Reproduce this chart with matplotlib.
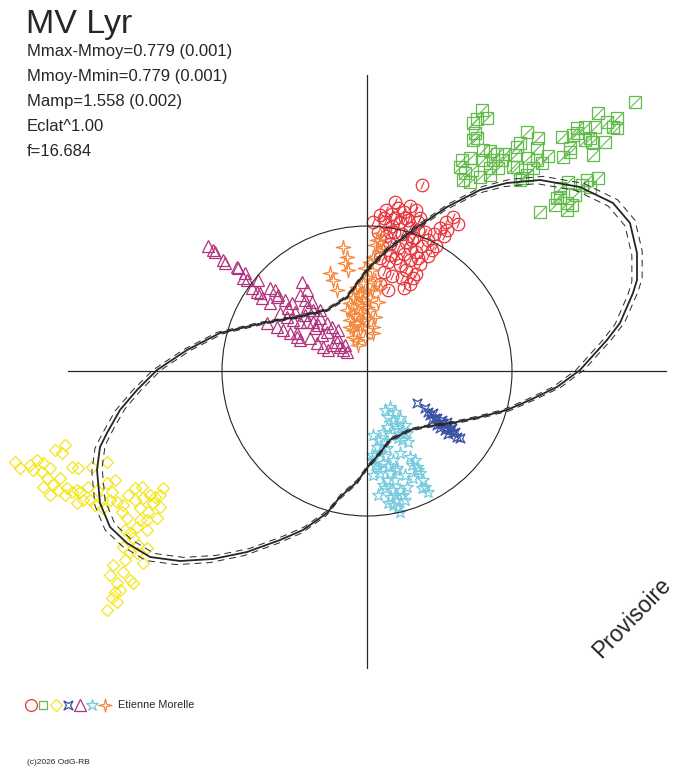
import matplotlib
matplotlib.use("Agg")
import matplotlib.pyplot as plt
from matplotlib.patches import Circle
from matplotlib.lines import Line2D
import matplotlib.transforms as mtransforms

plt.rcParams['font.family'] = ['Liberation Sans', 'DejaVu Sans']

# ---------------- data (arbitrary units, origin at crosshair) ----------------
title = "MV Lyr"
info_lines = ["Mmax-Mmoy=0.779 (0.001)", "Mmoy-Mmin=0.779 (0.001)",
              "Mamp=1.558 (0.002)", "Eclat^1.00", "f=16.684"]
author = "Etienne Morelle"
copyright_txt = "(c)2026 OdG-RB"
watermark = "Provisoire"

loop_x = [0, 20, 46, 80, 113, 140, 173, 213, 246, 263, 270, 270, 266, 253, 240, 213,
          190, 163, 140, 113, 90, 56, 43, 23, 13, 0, -10, -27, -40, -64, -87, -120,
          -154, -187, -217, -240, -257, -267, -270, -267, -260, -247, -230, -210,
          -180, -147, -104, -70, -40, -20, 0]
loop_y = [101, 121, 141, 164, 181, 188, 191, 184, 168, 148, 118, 91, 78, 48, 31, 1,
          -16, -29, -39, -46, -51, -56, -59, -69, -82, -97, -111, -126, -142, -159,
          -169, -181, -188, -190, -186, -172, -156, -132, -99, -76, -62, -39, -19, 1,
          21, 38, 48, 54, 61, 74, 101]
ref_radius = 145

red_x = [55, 28, 6, 13, 19, 25, 31, 37, 43, 49, 18, 25, 33, 41, 11, 19, 27, 35, 43, 51,
         15, 23, 31, 39, 47, 13, 21, 29, 37, 17, 25, 13, 21,
         86, 79, 73, 91, 67, 61, 77, 55, 69, 49, 61, 43, 53, 39, 49, 35, 43, 37, 51, 45,
         17, 28, 38, 23, 43, 53, 58, 80, 65, 51, 33, 23, 46]
red_y = [186, 169, 149, 156, 161, 157, 163, 159, 165, 161, 149, 145, 149, 151, 139, 135,
         139, 137, 143, 149, 125, 127, 123, 129, 133, 113, 109, 113, 117, 99, 95, 87, 81,
         154, 149, 143, 147, 137, 131, 135, 125, 125, 119, 115, 111, 107, 101, 97, 93, 87,
         83, 141, 131,
         153, 153, 153, 139, 123, 153, 139, 141, 121, 113, 106, 116, 93]

green_x = [115, 110, 120, 106, 108, 110, 106, 116, 123, 130, 138, 95, 103, 93, 98, 105,
           96, 103, 113, 123, 116, 126, 135, 131, 123, 160, 171, 170, 150, 153, 148, 150,
           146, 161, 170, 166, 181, 175, 160, 155, 153, 195, 203, 203, 196, 210, 218, 228,
           210, 206, 223, 225, 218, 238, 226, 231, 240, 250, 246, 250, 268, 201, 193, 193,
           190, 188, 200, 205, 200, 208, 173, 220, 223, 231, 215]
green_y = [261, 252, 253, 248, 238, 233, 231, 221, 220, 217, 217, 211, 213, 204, 198, 201,
           191, 189, 194, 196, 211, 211, 211, 203, 203, 239, 233, 223, 224, 228, 216, 204,
           204, 213, 211, 203, 215, 208, 196, 193, 191, 234, 223, 219, 214, 243, 244, 244,
           238, 236, 233, 229, 231, 229, 216, 258, 249, 253, 244, 243, 269, 189, 183, 174,
           173, 166, 168, 166, 161, 176, 159, 191, 184, 193, 186]

yellow_x = [-352, -347, -330, -324, -334, -325, -317, -312, -302, -305, -295, -289, -275,
            -260, -324, -314, -317, -309, -300, -295, -287, -290, -284, -277, -270, -260,
            -252, -265, -257, -250, -244, -264, -232, -225, -217, -204, -224, -214, -207,
            -227, -219, -240, -210, -220, -230, -237, -234, -220, -244, -237, -230, -220,
            -224, -254, -257, -244, -237, -234, -250, -252, -250, -260, -290,
            -337, -320, -307, -302, -279, -272, -255, -239, -232, -212, -245, -227, -242,
            -229, -242, -247, -255, -207]
yellow_y = [-91, -97, -89, -92, -99, -101, -97, -79, -74, -82, -96, -97, -96, -91, -116,
            -114, -124, -119, -117, -121, -121, -132, -129, -129, -119, -112, -109, -129,
            -129, -131, -134, -137, -117, -116, -124, -117, -127, -132, -136, -137, -141,
            -147, -147, -149, -156, -162, -167, -159, -176, -181, -182, -177, -192, -194,
            -204, -201, -209, -212, -212, -221, -231, -239, -119,
            -94, -107, -107, -124, -116, -134, -121, -124, -129, -126, -141, -149, -159,
            -174, -189, -219, -227, -124]

blue_x = [50, 58, 61, 66, 70, 65, 73, 76, 80, 83, 88, 90, 73, 80, 70, 86,
          63, 78, 85, 68, 75, 81, 93]
blue_y = [-32, -37, -41, -42, -47, -49, -52, -52, -56, -59, -61, -66, -57, -51, -54, -62,
          -44, -59, -57, -47, -49, -63, -67]

purple_x = [-159, -154, -152, -144, -142, -130, -129, -122, -124, -120, -109, -115, -110,
            -107, -97, -92, -89, -90, -97, -75, -65, -60, -67, -62, -55, -60, -54, -47,
            -87, -80, -74, -67, -60, -54, -47, -40, -35, -100, -90, -84, -77, -70, -67,
            -57, -50, -44, -39, -30, -24, -20, -30, -40, -70,
            -52, -45, -34, -27, -62, -49, -79, -72, -105, -82, -29, -22]
purple_y = [125, 121, 119, 111, 108, 104, 103, 98, 93, 91, 91, 83, 79, 78, 83, 81, 76, 74,
            68, 68, 89, 81, 76, 71, 69, 64, 61, 61, 58, 54, 51, 49, 49, 49, 53, 48, 44, 48,
            44, 41, 38, 38, 31, 33, 28, 24, 21, 29, 21, 19, 34, 39, 34,
            43, 36, 26, 24, 56, 46, 63, 59, 73, 71, 41, 26]

cyan_x = [23, 21, 26, 20, 30, 36, 40, 23, 31, 6, 10, 13, 5, 8, 16, 26, 33, 30, 23, 13, 6,
          20, 28, 43, 48, 50, 53, 56, 58, 55, 45, 26, 33, 23, 30, 36, 26, 31, 11, 40, 20,
          18, 28, 33, 38, 28, 16, 35, 41, 18, 11, 5, 18, 11, 21, 29, 38, 46, 18, 28, 38,
          21, 33, 16, 51, 61]
cyan_y = [-36, -46, -49, -56, -57, -59, -62, -64, -67, -64, -76, -81, -89, -94, -92, -89,
          -82, -97, -102, -102, -104, -109, -109, -86, -89, -96, -102, -109, -116, -117,
          -94, -119, -119, -126, -129, -124, -134, -137, -124, -116, -77,
          -39, -41, -47, -54, -54, -61, -69, -71, -72, -69, -84, -85, -97, -95, -99, -104,
          -107, -117, -124, -129, -132, -141, -114, -99, -121]

orange_x = [-24, -20, -22, -19, -37, -34, -30, 13, 10, 13, 16, 6, 5, 0, -4, -10, -7, -14,
            -17, -10, -4, 0, -20, -14, -7, -17, -10, -4, -14, -7, -14, -10, 13, 11, 8, 6,
            6, 0, 3, 8, 3, -2, -12, -5, 1, -17, -2, -9, 3, 8, 5, -12, -5]
orange_y = [124, 114, 108, 101, 98, 91, 81, 138, 131, 121, 124, 114, 101, 94, 88, 84, 78,
            74, 68, 68, 71, 64, 61, 58, 58, 51, 48, 51, 41, 41, 34, 31, 84, 69, 54, 44, 38,
            81, 74, 126, 109, 103, 56, 46, 53, 44, 33, 26, 61, 91, 81, 79, 66]

# ---------------- styles ----------------
C_RED = '#e8343c'
C_GREEN = '#63bb4c'
C_YELLOW = '#f4e61a'
C_BLUE = '#3b52a3'
C_PURPLE = '#b1337e'
C_CYAN = '#74cbdd'
C_ORANGE = '#f5873a'
C_INK = '#262626'

sparkle = [(0, 1), (0.18, 0.18), (1, 0), (0.18, -0.18), (0, -1), (-0.18, -0.18),
           (-1, 0), (-0.18, 0.18), (0, 1)]
astroid = [(1, 1), (0.45, 0.0), (1, -1), (0.0, -0.45), (-1, -1),
           (-0.45, 0.0), (-1, 1), (0.0, 0.45), (1, 1)]
slash_sq = [(-1, -1), (1, 1)]
slash_ci = [(-0.45, -1), (0.45, 1)]

W, H = 688, 768
fig = plt.figure(figsize=(W / 100, H / 100), dpi=100)
fig.patch.set_facecolor('white')
ax = fig.add_axes([0, 0, 1, 1])
ax.set_xlim(-367, W - 367)
ax.set_ylim(371 - H, 371)
ax.axis('off')

mew = 0.9
def pts(x, y, marker, color, ms, z, lw=mew):
    ax.plot(x, y, linestyle='none', marker=marker, markersize=ms,
            markerfacecolor='none', markeredgecolor=color, markeredgewidth=lw, zorder=z)

pts(green_x, green_y, 's', C_GREEN, 8.0, 2)
pts(green_x, green_y, slash_sq, C_GREEN, 7.5, 2, 0.8)
pts(red_x, red_y, 'o', C_RED, 9.0, 3)
pts(red_x, red_y, slash_ci, C_RED, 5.5, 3, 0.8)
pts(yellow_x, yellow_y, 'D', C_YELLOW, 6.5, 3)
pts(blue_x, blue_y, astroid, C_BLUE, 6.5, 3)
pts(purple_x, purple_y, '^', C_PURPLE, 8.5, 3)
pts(cyan_x, cyan_y, '*', C_CYAN, 9.5, 3)
pts(orange_x, orange_y, sparkle, C_ORANGE, 10.5, 4)

# crosshair and reference circle
ax.plot([-299, 299], [0, 0], color=C_INK, lw=0.9, zorder=5)
ax.plot([0, 0], [-297, 296], color=C_INK, lw=0.9, zorder=5)
ax.add_patch(Circle((0, 0), ref_radius, fill=False, edgecolor=C_INK, lw=0.8, zorder=5))

# model loop with envelopes
ax.plot(loop_x, loop_y, color=C_INK, lw=1.3, zorder=6, solid_joinstyle='round')
for s in (1.019, 0.981):
    tr = mtransforms.Affine2D().scale(s) + ax.transData
    ax.plot(loop_x, loop_y, color=C_INK, lw=0.7, linestyle=(0, (7, 5)),
            transform=tr, zorder=6)

# ---------------- texts ----------------
def fx(px):
    return px / W
def fy(py):
    return 1 - py / H

fig.text(fx(26), fy(33), title, fontsize=24.5, color=C_INK, va='baseline', ha='left')
for i, line in enumerate(info_lines):
    fig.text(fx(27), fy(56 + 25 * i), line, fontsize=12, color=C_INK,
             va='baseline', ha='left')

fig.text(fx(632), fy(618), watermark, fontsize=16.5, color=C_INK, rotation=46,
         ha='center', va='center', rotation_mode='anchor')

# legend row
leg_markers = ['o', 's', 'D', astroid, '^', '*', sparkle]
leg_colors = [C_RED, C_GREEN, C_YELLOW, C_BLUE, C_PURPLE, C_CYAN, C_ORANGE]
leg_sizes = [8.5, 6.0, 6.0, 6.5, 8.0, 9.0, 9.5]
for i, (m, c, ms) in enumerate(zip(leg_markers, leg_colors, leg_sizes)):
    fig.add_artist(Line2D([fx(31 + 12.3 * i)], [fy(705)], transform=fig.transFigure,
                          linestyle='none', marker=m, markersize=ms,
                          markerfacecolor='none', markeredgecolor=c, markeredgewidth=0.9))
fig.text(fx(118), fy(705), author, fontsize=7.8, color=C_INK, va='center', ha='left')
fig.text(fx(27), fy(763), copyright_txt, fontsize=6, color=C_INK, va='center', ha='left')

fig.savefig('out.png', dpi=100, facecolor='white')
